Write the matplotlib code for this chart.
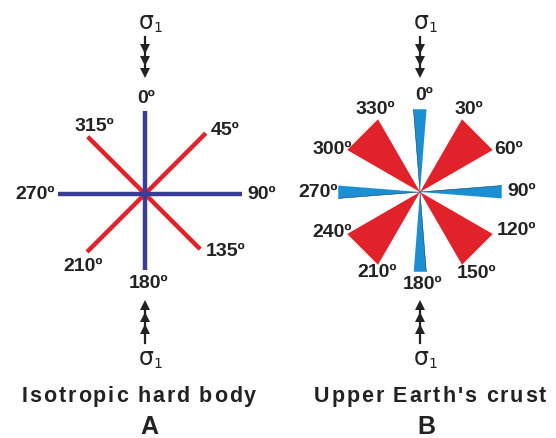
import numpy as np
import matplotlib.pyplot as plt

plt.rcParams["font.family"] = ["Liberation Sans", "DejaVu Sans"]

# ---------------------------------------------------------
# Data
# ---------------------------------------------------------
# Panel A: rays from the centre (azimuth in degrees, length in px)
a_blue_angles = [0, 90, 180, 270]
a_blue_lengths = [83, 97, 76, 87]
a_red_angles = [45, 135, 225, 315]
a_red_lengths = [86, 78, 82, 81]
a_labels = ["0º", "45º", "90º", "135º", "180º", "210º", "270º", "315º"]

# Panel B: narrow blue wedges and wide red sectors
b_blue_angles = [0, 90, 180, 270]
b_blue_halfwidth = 4.5
b_blue_lengths = [83, 82, 80, 82]
b_red_spans = [(30, 60), (120, 150), (210, 240), (300, 330)]
b_red_length = 84
b_labels = ["0º", "30º", "60º", "90º", "120º", "150º",
            "180º", "210º", "240º", "270º", "300º", "330º"]

titles = ["Isotropic hard body", "Upper Earth's crust"]
letters = ["A", "B"]

# ---------------------------------------------------------
# Layout (pixel coordinates, y downwards)
# ---------------------------------------------------------
CENTER_A = (145, 195)
CENTER_B = (420, 193)
A_LABEL_OFFSETS = [(1, -96), (80, -64), (117, 0), (81, 57), (4, 89),
                   (-62, 72), (-110, 0), (-51, -68)]
B_LABEL_OFFSETS = [(4, -98), (49, -83), (89, -43), (102, -1), (97, 38),
                   (57, 81), (3, 92), (-43, 80), (-88, 40), (-102, 0),
                   (-88, -43), (-45, -83)]
CAPTION_X = [139, 430]
LETTER_X = [149, 426]

NAVY = "#3a3d98"
RED = "#e2222b"
SKY = "#1b8fd3"
TEXT = "#222222"
LABEL_SIZE = 14


def polar(center, angle, length):
    """Azimuth measured clockwise from north, screen y downwards."""
    t = np.deg2rad(angle)
    return center[0] + length * np.sin(t), center[1] - length * np.cos(t)


def spaced_text(ax, renderer, cx, y, s, spacing, **kw):
    """Draw s centred on cx with extra tracking between characters."""
    parts = [ax.text(0, y, ch, ha="left", va="center", **kw) for ch in s]
    widths = []
    for ch, t in zip(s, parts):
        if ch == " ":
            widths.append(0.26 * kw["fontsize"] * 100 / 72)
        else:
            widths.append(t.get_window_extent(renderer).width)
    total = sum(widths) + spacing * (len(s) - 1)
    x = cx - total / 2
    for t, w in zip(parts, widths):
        t.set_x(x)
        x += w + spacing


def sigma(ax, x, y):
    ax.text(x, y, "σ", fontsize=17, ha="center", va="center",
            color=TEXT, family="DejaVu Sans")
    ax.text(x + 7, y + 6, "1", fontsize=10, ha="left", va="center",
            color=TEXT, family="DejaVu Sans")


def draw_sigma_arrows(ax, x):
    # top: sigma above, arrow pointing down
    sigma(ax, x + 1, 22)
    ax.plot([x, x], [38, 74], color=TEXT, lw=1.6)
    ax.plot([x] * 3, [50, 62, 74], ls="none", marker="v", ms=7,
            color=TEXT, markeredgewidth=0)
    # bottom: arrow pointing up, sigma below
    ax.plot([x, x], [306, 344], color=TEXT, lw=1.6)
    ax.plot([x] * 3, [306, 318, 330], ls="none", marker="^", ms=7,
            color=TEXT, markeredgewidth=0)
    sigma(ax, x + 1, 358)


fig = plt.figure(figsize=(5.56, 4.39), dpi=100)
ax = fig.add_axes([0, 0, 1, 1])
ax.set_xlim(0, 556)
ax.set_ylim(439, 0)
ax.set_aspect("equal")
ax.axis("off")
renderer = fig.canvas.get_renderer()

# Panel A: crossing lines
for angles, lengths, color in [(a_red_angles, a_red_lengths, RED),
                               (a_blue_angles, a_blue_lengths, NAVY)]:
    for ang, ln in zip(angles, lengths):
        x1, y1 = polar(CENTER_A, ang, ln)
        ax.plot([CENTER_A[0], x1], [CENTER_A[1], y1], color=color,
                lw=3.2, solid_capstyle="butt")

for lab, (dx, dy) in zip(a_labels, A_LABEL_OFFSETS):
    ax.text(CENTER_A[0] + dx, CENTER_A[1] + dy, lab, fontsize=LABEL_SIZE,
            fontweight="bold", ha="center", va="center", color=TEXT)

# Panel B: wedges
for lo, hi in b_red_spans:
    p1 = polar(CENTER_B, lo, b_red_length)
    p2 = polar(CENTER_B, hi, b_red_length)
    ax.fill([CENTER_B[0], p1[0], p2[0]], [CENTER_B[1], p1[1], p2[1]],
            color=RED, lw=0)

for ang, ln in zip(b_blue_angles, b_blue_lengths):
    p1 = polar(CENTER_B, ang - b_blue_halfwidth, ln)
    p2 = polar(CENTER_B, ang + b_blue_halfwidth, ln)
    ax.fill([CENTER_B[0], p1[0], p2[0]], [CENTER_B[1], p1[1], p2[1]],
            color=SKY, lw=0)
    ax.plot([CENTER_B[0], p1[0]], [CENTER_B[1], p1[1]], color="#0d3550",
            lw=0.4)

for lab, (dx, dy) in zip(b_labels, B_LABEL_OFFSETS):
    ax.text(CENTER_B[0] + dx, CENTER_B[1] + dy, lab, fontsize=LABEL_SIZE,
            fontweight="bold", ha="center", va="center", color=TEXT)

draw_sigma_arrows(ax, 145)
draw_sigma_arrows(ax, 420)

# Captions
for cx, lx, title, letter in zip(CAPTION_X, LETTER_X, titles, letters):
    spaced_text(ax, renderer, cx, 397, title, 1.9, fontsize=15.5,
                fontweight="bold", color=TEXT)
    ax.text(lx, 427, letter, fontsize=18, fontweight="bold",
            ha="center", va="center", color=TEXT)

fig.savefig("out.png", dpi=100)
